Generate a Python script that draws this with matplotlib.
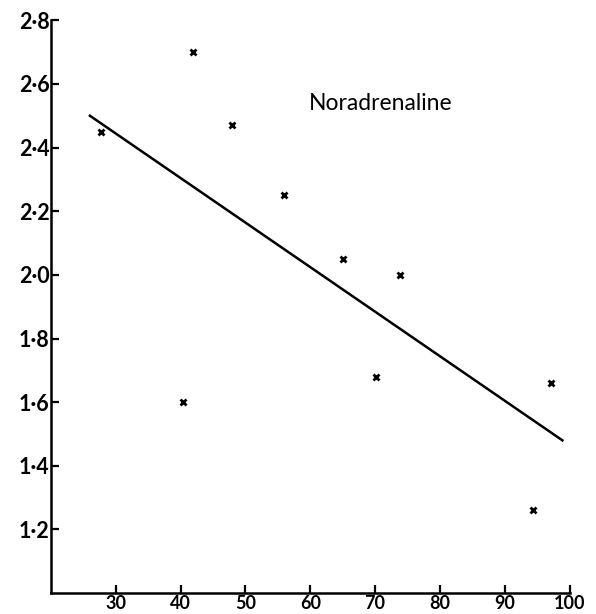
import matplotlib
matplotlib.use('Agg')
import matplotlib.pyplot as plt

# observed points (x, y)
px = [27.7, 41.9, 47.9, 55.9, 65.0, 73.9, 40.3, 70.1, 97.1, 94.3]
py = [2.45, 2.70, 2.47, 2.25, 2.05, 2.00, 1.60, 1.68, 1.66, 1.26]

# fitted line end points
line_x = [26.0, 98.9]
line_y = [2.50, 1.48]

xticks = [30, 40, 50, 60, 70, 80, 90, 100]
yticks = [1.2, 1.4, 1.6, 1.8, 2.0, 2.2, 2.4, 2.6, 2.8]
ylabels = ['1·2', '1·4', '1·6', '1·8', '2·0', '2·2', '2·4', '2·6', '2·8']

plt.rcParams['font.family'] = ['Lato', 'DejaVu Sans']

fig = plt.figure(figsize=(5.96, 6.14), dpi=100)
ax = fig.add_axes([0.0856, 0.034, 0.870, 0.933])

ax.plot(line_x, line_y, color='black', lw=1.8, clip_on=False)
ax.plot(px, py, 'x', color='black', ms=4.5, mew=2, clip_on=False)

ax.text(70.9, 2.54, 'Noradrenaline', fontsize=16.5, ha='center', va='center')

ax.set_xlim(20, 100)
ax.set_ylim(1.0, 2.8)
ax.set_xticks(xticks)
ax.set_xticklabels([str(t) for t in xticks])
ax.set_yticks(yticks)
ax.set_yticklabels(ylabels)

for s in ['top', 'right']:
    ax.spines[s].set_visible(False)
for s in ['left', 'bottom']:
    ax.spines[s].set_linewidth(1.8)

ax.tick_params(direction='in', length=6, width=1.6)
ax.tick_params(axis='y', labelsize=15.5, pad=1)
ax.tick_params(axis='x', labelsize=13, pad=1)
for lab in ax.get_xticklabels() + ax.get_yticklabels():
    lab.set_fontweight('bold')

fig.savefig('out.png', dpi=100)
